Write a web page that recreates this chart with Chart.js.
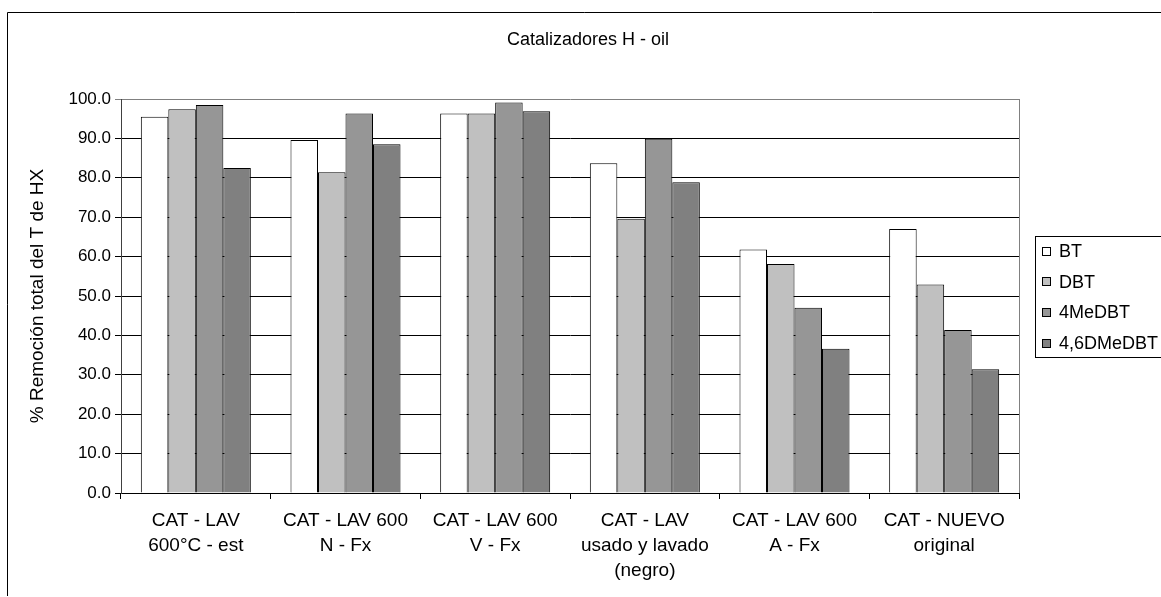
<!DOCTYPE html>
<html>
<head>
<meta charset="utf-8">
<script src="https://cdn.jsdelivr.net/npm/chart.js@4.4.0/dist/chart.umd.min.js"></script>
<style>
  html, body { margin: 0; padding: 0; background: #fff; }
  canvas { display: block; }
</style>
</head>
<body>
<canvas id="barChart" width="1161" height="597"></canvas>
<script>

var categories = [
    ['CAT - LAV', '600°C - est'],
    ['CAT - LAV 600', 'N - Fx'],
    ['CAT - LAV 600', 'V - Fx'],
    ['CAT - LAV', 'usado y lavado', '(negro)'],
    ['CAT - LAV 600', 'A - Fx'],
    ['CAT - NUEVO', 'original']
]
var seriesNames = ['BT', 'DBT', '4MeDBT', '4,6DMeDBT']
var seriesColors = ['#FFFFFF', '#C0C0C0', '#969696', '#808080']

var bt        = [95.5, 89.6, 96.3, 83.7, 61.8, 67.0]
var dbt       = [97.4, 81.4, 96.3, 69.6, 58.1, 52.9]
var meDbt     = [98.5, 96.3, 99.1, 89.9, 47.0, 41.4]
var dimeDbt   = [82.5, 88.5, 96.9, 78.9, 36.6, 31.4]

var yTicks = [0, 10, 20, 30, 40, 50, 60, 70, 80, 90, 100]

var FONT = "'Liberation Sans', Arial, sans-serif"

var allSeries = [bt, dbt, meDbt, dimeDbt]
var datasets = allSeries.map(function (vals, i) {
    return {
        label: seriesNames[i],
        data: vals,
        backgroundColor: seriesColors[i],
        borderColor: '#000000',
        borderWidth: 1,
        categoryPercentage: 0.735,
        barPercentage: 1.0
    }
})

// title, legend box and outer frame are drawn by hand
var decorations = {
    id: 'decorations',
    beforeDraw: function (chart) {
        var c = chart.ctx
        c.save()
        c.fillStyle = '#ffffff'
        c.fillRect(0, 0, chart.width, chart.height)
        c.restore()
    },
    afterDraw: function (chart) {
        var c = chart.ctx
        var a = chart.chartArea
        c.save()

        // right edge of the plot area
        c.strokeStyle = '#808080'
        c.lineWidth = 1
        c.beginPath()
        c.moveTo(Math.round(a.right) + 0.5, a.top)
        c.lineTo(Math.round(a.right) + 0.5, a.bottom)
        c.stroke()

        // outer frame
        c.strokeStyle = '#000000'
        c.beginPath()
        c.moveTo(7.5, 596)
        c.lineTo(7.5, 12.5)
        c.lineTo(1161, 12.5)
        c.stroke()

        // title
        c.fillStyle = '#000000'
        c.font = '18px ' + FONT
        c.textAlign = 'center'
        c.textBaseline = 'middle'
        c.fillText('Catalizadores H - oil', 588, 40)

        // legend
        c.strokeStyle = '#000000'
        c.strokeRect(1035.5, 236.5, 200, 121)
        c.textAlign = 'left'
        chart.data.datasets.forEach(function (ds, i) {
            var y = 251 + i * 30.7
            c.fillStyle = ds.backgroundColor
            c.fillRect(1042, Math.round(y - 4.5), 9, 9)
            c.strokeRect(1042.5, Math.round(y - 4.5) + 0.5, 8, 8)
            c.fillStyle = '#000000'
            c.fillText(ds.label, 1059, y + 1)
        })
        c.restore()
    }
}

var ctx = document.getElementById('barChart').getContext('2d')

var chart = new Chart(ctx, {
    type: 'bar',
    data: {
        labels: categories,
        datasets: datasets
    },
    plugins: [decorations],
    options: {
        responsive: false,
        animation: false,
        devicePixelRatio: 1,
        layout: {
            padding: { top: 99, right: 142, bottom: 0, left: 7 }
        },
        plugins: {
            legend: { display: false },
            title: { display: false },
            tooltip: { enabled: false }
        },
        scales: {
            x: {
                afterFit: function (scale) { scale.height = 104 },
                grid: {
                    display: true,
                    offset: true,
                    drawOnChartArea: false,
                    drawTicks: true,
                    tickLength: 6,
                    color: '#000000'
                },
                border: { color: '#000000', width: 1 },
                ticks: {
                    color: '#000000',
                    font: { family: FONT, size: 19, lineHeight: 1.29 },
                    padding: 10,
                    maxRotation: 0,
                    autoSkip: false
                }
            },
            y: {
                min: 0,
                max: 100,
                afterFit: function (scale) { scale.width = 114 },
                afterBuildTicks: function (scale) {
                    scale.ticks = yTicks.map(function (v) { return { value: v } })
                },
                grid: {
                    color: function (c) {
                        return c.tick && c.tick.value === 100 ? '#808080' : '#000000'
                    },
                    lineWidth: 1,
                    tickLength: 6,
                    drawTicks: true
                },
                border: { color: '#404040', width: 1 },
                ticks: {
                    color: '#000000',
                    font: { family: FONT, size: 17 },
                    padding: 4,
                    callback: function (v) { return Number(v).toFixed(1) }
                },
                title: {
                    display: true,
                    text: '% Remoción total del T de HX',
                    color: '#000000',
                    font: { family: FONT, size: 19 },
                    padding: { top: 19, bottom: 0 }
                }
            }
        }
    }
})

</script>
</body>
</html>
